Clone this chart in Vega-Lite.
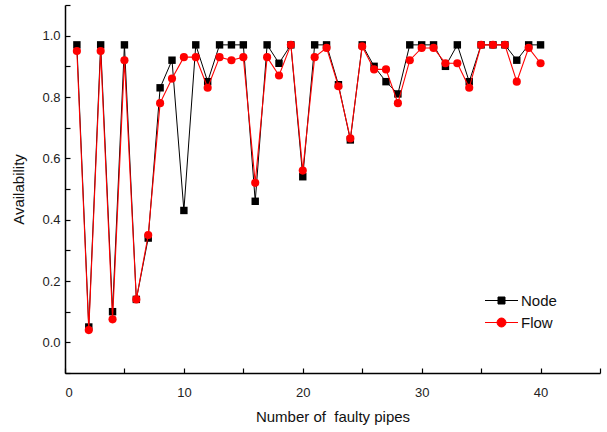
{
  "$schema": "https://vega.github.io/schema/vega-lite/v6.json",
  "width": 535,
  "height": 368,
  "autosize": "none",
  "padding": {"left": 65, "top": 5, "right": 7, "bottom": 59},
  "config": {
    "view": {"stroke": null},
    "font": "Liberation Sans",
    "axis": {
      "grid": false,
      "domainColor": "#000000",
      "domainWidth": 1.5,
      "tickColor": "#000000",
      "tickWidth": 1.2,
      "tickSize": -5,
      "labelColor": "#222222",
      "labelFontSize": 13,
      "labelFont": "Liberation Sans",
      "titleFont": "Liberation Sans",
      "titleFontSize": 15,
      "titleFontWeight": "normal",
      "titleColor": "#111111"
    },
    "legend": {"labelFont": "Liberation Sans", "labelFontSize": 15, "labelColor": "#111111"}
  },
  "data": {
    "values": [
      {"x": 1, "Node": 0.97, "Flow": 0.95},
      {"x": 2, "Node": 0.05, "Flow": 0.04},
      {"x": 3, "Node": 0.97, "Flow": 0.95},
      {"x": 4, "Node": 0.10, "Flow": 0.075},
      {"x": 5, "Node": 0.97, "Flow": 0.92},
      {"x": 6, "Node": 0.14, "Flow": 0.14},
      {"x": 7, "Node": 0.34, "Flow": 0.35},
      {"x": 8, "Node": 0.83, "Flow": 0.78},
      {"x": 9, "Node": 0.92, "Flow": 0.86},
      {"x": 10, "Node": 0.43, "Flow": 0.93},
      {"x": 11, "Node": 0.97, "Flow": 0.93},
      {"x": 12, "Node": 0.85, "Flow": 0.83},
      {"x": 13, "Node": 0.97, "Flow": 0.93},
      {"x": 14, "Node": 0.97, "Flow": 0.92},
      {"x": 15, "Node": 0.97, "Flow": 0.93},
      {"x": 16, "Node": 0.46, "Flow": 0.52},
      {"x": 17, "Node": 0.97, "Flow": 0.93},
      {"x": 18, "Node": 0.91, "Flow": 0.87},
      {"x": 19, "Node": 0.97, "Flow": 0.97},
      {"x": 20, "Node": 0.54, "Flow": 0.56},
      {"x": 21, "Node": 0.97, "Flow": 0.93},
      {"x": 22, "Node": 0.97, "Flow": 0.96},
      {"x": 23, "Node": 0.84, "Flow": 0.835},
      {"x": 24, "Node": 0.66, "Flow": 0.665},
      {"x": 25, "Node": 0.97, "Flow": 0.965},
      {"x": 26, "Node": 0.90, "Flow": 0.89},
      {"x": 27, "Node": 0.85, "Flow": 0.89},
      {"x": 28, "Node": 0.81, "Flow": 0.78},
      {"x": 29, "Node": 0.97, "Flow": 0.92},
      {"x": 30, "Node": 0.97, "Flow": 0.96},
      {"x": 31, "Node": 0.97, "Flow": 0.96},
      {"x": 32, "Node": 0.90, "Flow": 0.91},
      {"x": 33, "Node": 0.97, "Flow": 0.91},
      {"x": 34, "Node": 0.85, "Flow": 0.83},
      {"x": 35, "Node": 0.97, "Flow": 0.97},
      {"x": 36, "Node": 0.97, "Flow": 0.97},
      {"x": 37, "Node": 0.97, "Flow": 0.97},
      {"x": 38, "Node": 0.92, "Flow": 0.85},
      {"x": 39, "Node": 0.97, "Flow": 0.96},
      {"x": 40, "Node": 0.97, "Flow": 0.91}
    ]
  },
  "transform": [{"fold": ["Node", "Flow"], "as": ["series", "value"]}],
  "encoding": {
    "x": {
      "field": "x", "type": "quantitative",
      "scale": {"domain": [0, 45], "nice": false, "zero": false},
      "axis": {
        "title": "Number of\u00a0\u00a0faulty pipes",
        "values": [0, 5, 10, 15, 20, 25, 30, 35, 40, 45],
        "labelExpr": "datum.value % 10 == 0 && datum.value < 45 ? datum.label : ''",
        "labelPadding": 18,
        "titlePadding": 10
      }
    },
    "y": {
      "field": "value", "type": "quantitative",
      "scale": {"domain": [-0.1, 1.1], "nice": false, "zero": false},
      "axis": {
        "title": "Availability",
        "values": [-0.1, 0, 0.1, 0.2, 0.3, 0.4, 0.5, 0.6, 0.7, 0.8, 0.9, 1.0, 1.1],
        "labelExpr": "abs(round(datum.value * 10)) % 2 == 0 ? format(datum.value, '.1f') : ''",
        "labelPadding": 10,
        "titlePadding": 15
      }
    }
  },
  "layer": [
    {
      "transform": [{"filter": "datum.series == 'Node'"}],
      "mark": {"type": "line", "strokeWidth": 1, "color": "#000000"},
      "encoding": {}
    },
    {
      "transform": [{"filter": "datum.series == 'Node'"}],
      "mark": {"type": "point", "shape": "square", "filled": true, "opacity": 1, "size": 55, "color": "#000000"}
    },
    {
      "transform": [{"filter": "datum.series == 'Flow'"}],
      "mark": {"type": "line", "strokeWidth": 1.1, "color": "#ff0000"},
      "encoding": {}
    },
    {
      "transform": [{"filter": "datum.series == 'Flow'"}],
      "mark": {"type": "point", "shape": "circle", "filled": true, "opacity": 1, "size": 66, "color": "#ff0000"}
    },
    {
      "mark": {"type": "point", "filled": true, "opacity": 1, "strokeWidth": 1, "size": 0},
      "encoding": {
        "fill": {"field": "series", "type": "nominal", "scale": {"domain": ["Node", "Flow"], "range": ["#000000", "#ff0000"]}, "legend": {"title": null}},
        "stroke": {"field": "series", "type": "nominal", "scale": {"domain": ["Node", "Flow"], "range": ["#000000", "#ff0000"]}, "legend": {"title": null}},
        "shape": {
          "field": "series", "type": "nominal",
          "scale": {"domain": ["Node", "Flow"], "range": ["M-3.3,0H3.3M-0.7,-0.7H0.7V0.7H-0.7Z", "M-3.3,0H3.3M-0.9,0A0.9,0.9,0,1,1,0.9,0A0.9,0.9,0,1,1,-0.9,0Z"]},
          "legend": {
            "title": null,
            "orient": "none",
            "legendX": 429,
            "legendY": 288,
            "symbolSize": 100,
            "symbolStrokeWidth": 1,
            "labelOffset": 12,
            "rowPadding": 6
          }
        }
      }
    }
  ]
}
